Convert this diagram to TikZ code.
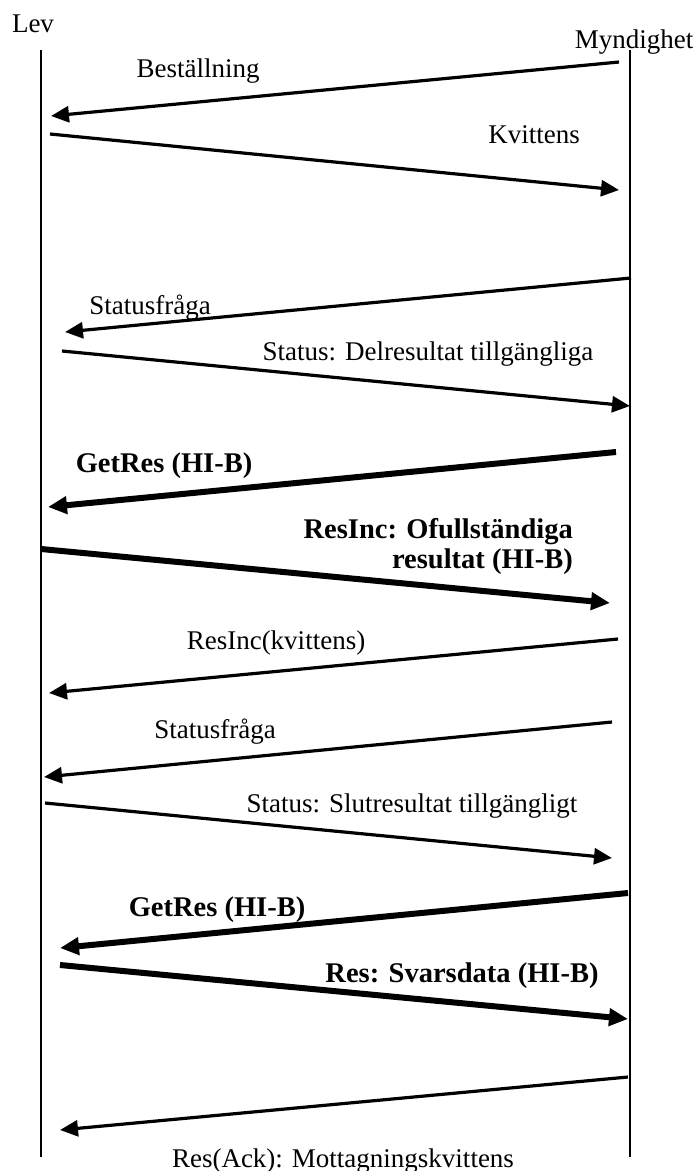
\documentclass[tikz,border=0pt]{standalone}
\usepackage{fontspec}
\setmainfont{Liberation Serif}
\usetikzlibrary{arrows.meta}

\begin{document}
\begin{tikzpicture}[x=1pt, y=-1pt,
        lifeline/.style={line width=1.3pt},
        msg/.style={line width=3.2pt, -{Triangle[length=18pt, width=16pt]}},
        bigmsg/.style={line width=6pt, -{Triangle[length=19pt, width=17pt]}},
        lbl/.style={anchor=base, inner sep=0pt, font=\fontsize{27}{30}\selectfont},
        boldlbl/.style={anchor=base, inner sep=0pt, font=\fontsize{28.5}{31}\selectfont\bfseries}]
        \useasboundingbox (0, 0) rectangle (697, 1171);

        \coordinate (LevTop) at (41, 50);
        \coordinate (LevBot) at (41, 1157);
        \node[lbl] (lev) at (33, 32) {Lev};

        \coordinate (MynTop) at (630, 50);
        \coordinate (MynBot) at (630, 1157);
        \node[lbl] (myn) at (634, 48) {Myndighet};

        \draw[lifeline] (LevTop) -- (LevBot);
        \draw[lifeline] (MynTop) -- (MynBot);

        \coordinate (A1) at (619, 62);
        \coordinate (B1) at (51, 116);
        \node[lbl] (best) at (198, 77) {Beställning};

        \coordinate (A2) at (50, 134);
        \coordinate (B2) at (619, 190);
        \node[lbl] (kvitt) at (534, 143) {Kvittens};

        \coordinate (A3) at (631, 278);
        \coordinate (B3) at (65, 332);
        \node[lbl] (fraga) at (150, 314) {Statusfråga};

        \coordinate (A4) at (62, 351);
        \coordinate (B4) at (630, 406);
        \node[lbl] (delres) at (428, 360) {Status: Delresultat tillgängliga};

        \coordinate (A5) at (616, 452);
        \coordinate (B5) at (48, 507);
        \node[boldlbl] (getres) at (164, 472) {GetRes (HI-B)};

        \coordinate (A6) at (41, 549);
        \coordinate (B6) at (610, 603);
        \node[boldlbl, anchor=base east] (resinc) at (573, 538) {ResInc: Ofullständiga};
        \node[boldlbl, anchor=base east] (resinctwo) at (573, 568) {resultat (HI-B)};

        \coordinate (A7) at (618, 639);
        \coordinate (B7) at (49, 693);
        \node[lbl] (resack) at (276, 649) {ResInc(kvittens)};

        \coordinate (A8) at (612, 722);
        \coordinate (B8) at (44, 777);
        \node[lbl] (fragatwo) at (215, 738) {Statusfråga};

        \coordinate (A9) at (45, 803);
        \coordinate (B9) at (612, 858);
        \node[lbl] (slutres) at (412, 812) {Status: Slutresultat tillgängligt};

        \coordinate (A10) at (628, 893);
        \coordinate (B10) at (60, 948);
        \node[boldlbl] (getrestwo) at (217, 916) {GetRes (HI-B)};

        \coordinate (A11) at (60, 965);
        \coordinate (B11) at (628, 1019);
        \node[boldlbl] (svar) at (462, 982) {Res: Svarsdata (HI-B)};

        \coordinate (A12) at (628, 1077);
        \coordinate (B12) at (60, 1130);
        \node[lbl] (mottag) at (343, 1167) {Res(Ack): Mottagningskvittens};

        \draw[msg] (A1) -- (B1);
        \draw[msg] (A2) -- (B2);
        \draw[msg] (A3) -- (B3);
        \draw[msg] (A4) -- (B4);
        \draw[bigmsg] (A5) -- (B5);
        \draw[bigmsg] (A6) -- (B6);
        \draw[msg] (A7) -- (B7);
        \draw[msg] (A8) -- (B8);
        \draw[msg] (A9) -- (B9);
        \draw[bigmsg] (A10) -- (B10);
        \draw[bigmsg] (A11) -- (B11);
        \draw[msg] (A12) -- (B12);
    \end{tikzpicture}
\end{document}
